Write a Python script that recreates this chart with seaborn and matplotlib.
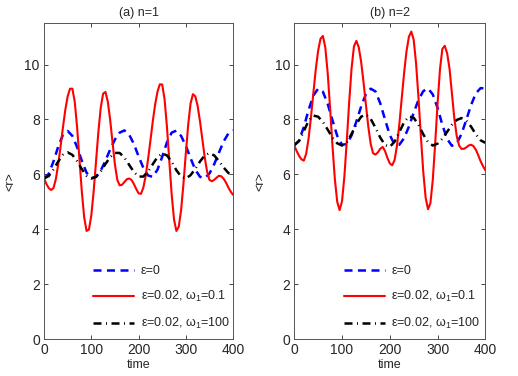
import matplotlib
matplotlib.use("Agg")
import matplotlib.pyplot as plt
import numpy as np
import seaborn as sns

# time grids (coarse for the smooth curves, finer for the red ones)
time_coarse = list(range(0, 401, 10))
time_fine = list(range(0, 401, 5))

# (a) n=1
blue_a = [5.85, 6.02, 6.47, 7.01, 7.44, 7.58, 7.40, 6.99, 6.49, 6.06, 5.86,
          5.91, 6.14, 6.50, 6.91, 7.27, 7.52, 7.60, 7.45, 7.11, 6.66,
          6.24, 5.96, 5.91, 6.17, 6.64, 7.16, 7.52, 7.59, 7.40, 7.04,
          6.59, 6.17, 5.91, 5.86, 6.03, 6.37, 6.79, 7.20, 7.49, 7.60]
black_a = [5.85, 5.94, 6.18, 6.47, 6.71, 6.80, 6.71, 6.48, 6.19, 5.95, 5.85,
           5.91, 6.11, 6.38, 6.63, 6.78, 6.78, 6.61, 6.35, 6.09, 5.92,
           5.92, 6.10, 6.37, 6.63, 6.76, 6.69, 6.46, 6.15, 5.92, 5.85,
           5.97, 6.20, 6.47, 6.69, 6.77, 6.69, 6.49, 6.25, 6.05, 5.97]
red_a = [5.85, 5.65, 5.50, 5.43, 5.50, 5.83, 6.36, 7.02, 7.71, 8.35, 8.84,
         9.12, 9.12, 8.64, 7.71, 6.54, 5.36, 4.43, 3.94, 3.99, 4.50,
         5.38, 6.47, 7.55, 8.43, 8.94, 9.00, 8.64, 7.97, 7.15, 6.36,
         5.80, 5.60, 5.62, 5.72, 5.82, 5.85, 5.80, 5.65, 5.47, 5.31,
         5.29, 5.51, 5.94, 6.54, 7.22, 7.92, 8.54, 9.01, 9.28, 9.27,
         8.74, 7.74, 6.50, 5.28, 4.36, 3.94, 4.09, 4.70, 5.66, 6.77,
         7.81, 8.58, 8.92, 8.84, 8.49, 7.93, 7.27, 6.62, 6.10, 5.80,
         5.75, 5.80, 5.88, 5.95, 5.93, 5.84, 5.70, 5.52, 5.37, 5.25]

# (b) n=2
blue_b = [7.05, 7.23, 7.72, 8.34, 8.87, 9.12, 9.01, 8.57, 7.97, 7.40, 7.08,
          7.10, 7.42, 7.92, 8.47, 8.92, 9.12, 9.02, 8.59, 8.00, 7.43,
          7.09, 7.08, 7.32, 7.74, 8.24, 8.71, 9.03, 9.13, 8.91, 8.42,
          7.80, 7.29, 7.04, 7.12, 7.47, 7.98, 8.52, 8.95, 9.14, 9.13]
black_b = [7.07, 7.21, 7.57, 7.95, 8.14, 8.10, 7.91, 7.63, 7.34, 7.13, 7.05,
           7.17, 7.47, 7.83, 8.10, 8.18, 8.02, 7.70, 7.34, 7.07, 7.00,
           7.19, 7.54, 7.90, 8.11, 8.06, 7.81, 7.46, 7.17, 7.05, 7.12,
           7.30, 7.55, 7.80, 7.98, 8.05, 7.96, 7.74, 7.46, 7.24, 7.15]
red_b = [7.05, 6.85, 6.68, 6.55, 6.50, 6.75, 7.30, 8.07, 8.95, 9.81, 10.50,
         10.94, 11.04, 10.62, 9.70, 8.43, 7.05, 5.83, 5.00, 4.70, 5.02,
         5.93, 7.22, 8.63, 9.86, 10.66, 10.86, 10.63, 10.10, 9.36, 8.54,
         7.74, 7.11, 6.77, 6.72, 6.80, 6.93, 7.00, 6.85, 6.60, 6.40,
         6.33, 6.52, 7.04, 7.83, 8.77, 9.70, 10.49, 11.01, 11.20, 10.90,
         10.04, 8.80, 7.40, 6.10, 5.15, 4.73, 4.95, 5.81, 7.13, 8.58,
         9.82, 10.57, 10.68, 10.41, 9.85, 8.95, 8.05, 7.40, 7.05, 6.93,
         6.93, 6.98, 7.05, 7.08, 7.03, 6.90, 6.70, 6.48, 6.30, 6.15]

labels = ["\u03b5=0", "\u03b5=0.02, \u03c9$_1$=0.1", "\u03b5=0.02, \u03c9$_1$=100"]
titles = ["(a) n=1", "(b) n=2"]


def draw_panel(ax, blue, red, black, title):
    sns.lineplot(x=time_coarse, y=blue, color="blue", lw=1.8,
                 linestyle=(0, (3.2, 2.2)), label=labels[0], ax=ax)
    sns.lineplot(x=time_fine, y=red, color="red", lw=1.5,
                 label=labels[1], ax=ax)
    sns.lineplot(x=time_coarse, y=black, color="black", lw=1.8,
                 linestyle=(0, (3.2, 1.8, 0.4, 1.8)), label=labels[2], ax=ax)
    ax.set_xlim(0, 400)
    ax.set_ylim(0, 11.5)
    ax.set_xticks([0, 100, 200, 300, 400])
    ax.set_yticks([0, 2, 4, 6, 8, 10])
    ax.tick_params(direction="in", top=True, right=True, length=3,
                   width=0.6, labelsize=10, pad=3)
    for s in ax.spines.values():
        s.set_linewidth(0.7)
        s.set_color("#555555")
    ax.set_title(title, fontsize=9, pad=5)
    ax.set_xlabel("time", fontsize=9, labelpad=1)
    ax.set_ylabel("<r>", fontsize=9, labelpad=6)
    ax.legend(loc="lower left", bbox_to_anchor=(0.2, -0.01), frameon=False,
              fontsize=9, handlelength=3.3, handletextpad=0.5,
              labelspacing=0.95)


sns.set_style("ticks")
plt.rcParams["font.family"] = ["Liberation Sans", "DejaVu Sans"]
plt.rcParams["mathtext.fontset"] = "custom"
plt.rcParams["mathtext.rm"] = "Liberation Sans"
plt.rcParams["mathtext.it"] = "Liberation Sans"

fig = plt.figure(figsize=(5.18, 3.76), dpi=100)
ax1 = fig.add_axes([0.085, 0.098, 0.365, 0.840])
ax2 = fig.add_axes([0.568, 0.098, 0.369, 0.840])

draw_panel(ax1, blue_a, red_a, black_a, titles[0])
draw_panel(ax2, blue_b, red_b, black_b, titles[1])

fig.savefig("out.png", dpi=100)
